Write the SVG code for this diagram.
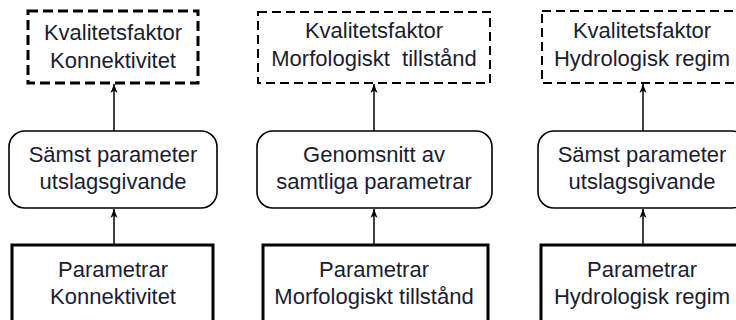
<svg xmlns="http://www.w3.org/2000/svg" width="736" height="320" viewBox="0 0 736 320">
<style>
text{font-family:"Liberation Sans",Arial,sans-serif;font-size:22px;fill:#1c1c30;text-anchor:middle;white-space:pre}
.dash1{fill:none;stroke:#000;stroke-width:3;stroke-dasharray:10 5}
.dash2{fill:none;stroke:#000;stroke-width:2;stroke-dasharray:9 5}
.round{fill:#fff;stroke:#000;stroke-width:1.6}
.thick{fill:#fff;stroke:#000;stroke-width:3}
.conn{stroke:#000;stroke-width:1.5;fill:none;marker-end:url(#ah)}
</style>
<defs>
<marker id="ah" markerWidth="10" markerHeight="10" refX="9" refY="5" orient="auto" markerUnits="userSpaceOnUse">
<path d="M0,1.5 L9,5 L0,8.5 L2.5,5 Z" fill="#000"/>
</marker>
</defs>
<rect width="736" height="320" fill="#fff"/>
<g id="kf-konnektivitet">
<rect class="dash1" x="28" y="11" width="170" height="72"/>
<text x="113" y="40">Kvalitetsfaktor</text>
<text x="113" y="68">Konnektivitet</text>
</g>
<g id="kf-morfologiskt">
<rect class="dash2" x="258" y="12" width="232" height="71"/>
<text x="374" y="38">Kvalitetsfaktor</text>
<text x="374" y="66" xml:space="preserve">Morfologiskt  tillstånd</text>
</g>
<g id="kf-hydrologisk">
<rect class="dash2" x="542" y="11" width="200" height="72"/>
<text x="642" y="38">Kvalitetsfaktor</text>
<text x="642" y="66">Hydrologisk regim</text>
</g>
<g id="agg-konnektivitet">
<rect class="round" x="9" y="131" width="208" height="77" rx="16"/>
<text x="113" y="162">Sämst parameter</text>
<text x="113" y="189">utslagsgivande</text>
</g>
<g id="agg-morfologiskt">
<rect class="round" x="257" y="131" width="235" height="77" rx="16"/>
<text x="374" y="162">Genomsnitt av</text>
<text x="374" y="189">samtliga parametrar</text>
</g>
<g id="agg-hydrologisk">
<rect class="round" x="538" y="131" width="210" height="77" rx="16"/>
<text x="642" y="162">Sämst parameter</text>
<text x="642" y="189">utslagsgivande</text>
</g>
<g id="par-konnektivitet">
<rect class="thick" x="12" y="245" width="201" height="90"/>
<text x="113" y="277">Parametrar</text>
<text x="113" y="304">Konnektivitet</text>
</g>
<g id="par-morfologiskt">
<rect class="thick" x="263" y="245" width="225" height="90"/>
<text x="374" y="277">Parametrar</text>
<text x="374" y="304">Morfologiskt tillstånd</text>
</g>
<g id="par-hydrologisk">
<rect class="thick" x="541" y="245" width="210" height="90"/>
<text x="642" y="277">Parametrar</text>
<text x="642" y="304">Hydrologisk regim</text>
</g>
<g id="connectors">
<line class="conn" x1="114" y1="131" x2="114" y2="84"/>
<line class="conn" x1="114" y1="245" x2="114" y2="209"/>
<line class="conn" x1="374" y1="131" x2="374" y2="84"/>
<line class="conn" x1="374" y1="245" x2="374" y2="209"/>
<line class="conn" x1="643" y1="131" x2="643" y2="84"/>
<line class="conn" x1="643" y1="245" x2="643" y2="209"/>
</g>
</svg>
